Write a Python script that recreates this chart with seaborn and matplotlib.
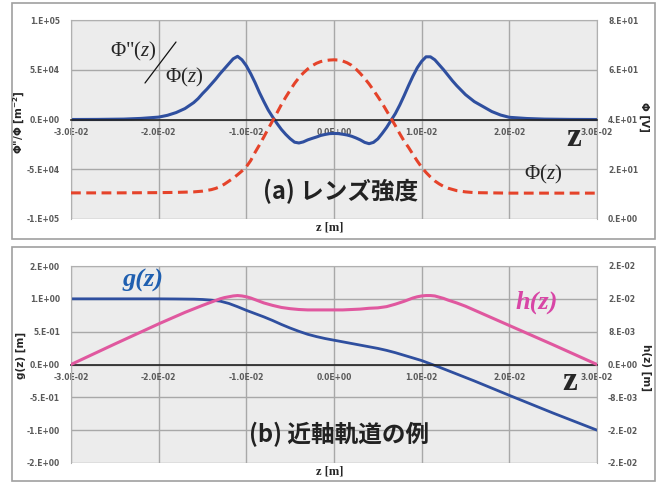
import numpy as np
import matplotlib
matplotlib.use('Agg')
import matplotlib.pyplot as plt
import seaborn as sns
from matplotlib.patches import Rectangle
from matplotlib.lines import Line2D

# panel (a): z [mm] -> Phi''/Phi [1e4 m^-2]
z_lens = [-30, -27, -24, -22, -20, -19, -18, -17, -16.5, -16, -15.5, -15, -14.5, -14, -13.5, -13, -12.5,
          -12, -11.5, -11, -10.5, -10, -9.5, -9, -8.5, -8, -7.5, -7, -6.5, -6, -5.5, -5, -4.5, -4, -3.5,
          -3, -2.5, -2, -1.5, -1, -0.5, 0,
          0.5, 1, 1.5, 2, 2.5, 3, 3.5, 4, 4.5, 5, 5.5, 6, 6.5, 7, 7.5, 8, 8.5, 9, 9.5, 10, 10.5, 11,
          11.5, 12, 12.5, 13, 13.5, 14, 14.5, 15, 16, 17, 18, 19, 20, 22, 24, 27, 30]
lens = [0, 0.01, 0.04, 0.11, 0.24, 0.42, 0.7, 1.1, 1.4, 1.7, 2.1, 2.6, 3.05, 3.55, 4.05, 4.6, 5.1,
        5.6, 6.1, 6.35, 6.0, 5.4, 4.6, 3.7, 2.7, 1.8, 0.95, 0.25, -0.4, -1.0, -1.5, -1.93, -2.28, -2.36,
        -2.25, -2.05, -1.9, -1.76, -1.6, -1.5, -1.42, -1.4,
        -1.42, -1.48, -1.56, -1.68, -1.85, -2.05, -2.3, -2.43, -2.3, -1.95, -1.4, -0.8, -0.1, 0.6, 1.45,
        2.4, 3.4, 4.35, 5.2, 5.85, 6.3, 6.3, 6.0, 5.5, 5.0, 4.45, 3.9, 3.4, 2.95, 2.5, 1.8, 1.3, 0.8,
        0.45, 0.22, 0.1, 0.04, 0.01, 0]
# z [mm] -> Phi [V]
z_phi = [-30, -25, -20, -18, -16, -15, -14, -13.5, -13, -12.5, -12, -11.5, -11, -10.5, -10, -9.5, -9,
         -8.5, -8, -7.5, -7, -6.5, -6, -5.5, -5, -4.5, -4, -3.5, -3, -2.5, -2, -1.5, -1, -0.5, 0,
         0.5, 1, 1.5, 2, 2.5, 3, 3.5, 4, 4.5, 5, 5.5, 6, 6.5, 7, 7.5, 8, 8.5, 9, 9.5, 10, 10.5, 11,
         11.5, 12, 12.5, 13, 14, 15, 16, 18, 20, 25, 30]
phi = [10.5, 10.5, 10.6, 10.7, 10.9, 11.2, 11.8, 12.3, 13.0, 14.0, 15.2, 16.4, 17.8, 19.3, 21.0, 23.5,
       26.8, 29.8, 33.0, 36.3, 39.5, 42.7, 46.0, 49.0, 51.8, 54.5, 56.8, 58.7, 60.3, 61.6, 62.6, 63.3,
       63.7, 63.9, 64.0,
       63.9, 63.5, 62.8, 61.8, 60.3, 58.5, 56.5, 54.3, 51.8, 49.2, 46.5, 43.5, 40.5, 37.5, 34.3, 31.3,
       28.8, 26.0, 23.3, 20.8, 18.7, 16.9, 15.3, 14.1, 13.1, 12.4, 11.4, 10.9, 10.6, 10.5, 10.4, 10.4,
       10.4]

# panel (b): paraxial rays
z_g = [-30, -25, -20, -18, -16, -15, -14, -13, -12, -11, -10, -9, -8, -7, -6, -5, -4, -3, -2, -1, 0,
       1, 2, 3, 4, 5, 6, 7, 8, 9, 10, 11, 12, 14, 16, 18, 20, 25, 30]
g = [1.0, 1.0, 1.0, 0.998, 0.995, 0.99, 0.98, 0.965, 0.93, 0.88, 0.825, 0.775, 0.725, 0.67, 0.61, 0.555,
     0.505, 0.46, 0.425, 0.395, 0.37,
     0.345, 0.32, 0.295, 0.27, 0.245, 0.215, 0.18, 0.14, 0.1, 0.06, 0.01, -0.04, -0.145, -0.25,
     -0.36, -0.47, -0.74, -1.0]
z_h = [-30, -25, -20, -17, -15, -14, -13.5, -13, -12.5, -12, -11.5, -11, -10.5, -10, -9.5, -9, -8.5,
       -8, -7, -6, -5, -4, -3, -2, -1, 0, 1, 2, 3, 4, 5, 6, 7, 8, 8.5, 9, 9.5, 10, 10.5, 11, 11.5,
       12, 12.5, 13, 14, 15, 20, 25, 30]
h = [0, 0.005, 0.0099, 0.0127, 0.0144, 0.0152, 0.0156, 0.016, 0.0163, 0.0165, 0.0167, 0.0168, 0.0167,
     0.0165, 0.0162, 0.0158, 0.0154, 0.015, 0.0144, 0.0139, 0.0136, 0.0134, 0.0133, 0.0133, 0.0133,
     0.0133, 0.0133, 0.0134, 0.0135, 0.0137, 0.0138, 0.0141, 0.0147, 0.0154, 0.0158, 0.0162, 0.0165,
     0.0167, 0.0168, 0.0168, 0.0167, 0.0164, 0.0161, 0.0157, 0.015, 0.0142, 0.0095, 0.0048, 0]

x_ticks = [-0.03, -0.02, -0.01, 0, 0.01, 0.02, 0.03]
x_labels = ['-3.0E-02', '-2.0E-02', '-1.0E-02', '0.0E+00', '1.0E-02', '2.0E-02', '3.0E-02']
a_left_ticks = [-1e5, -5e4, 0, 5e4, 1e5]
a_left_labels = ['-1.E+05', '-5.E+04', '0.E+00', '5.E+04', '1.E+05']
a_right_ticks = [0, 20, 40, 60, 80]
a_right_labels = ['0.E+00', '2.E+01', '4.E+01', '6.E+01', '8.E+01']
b_left_ticks = [-1.5, -1.0, -0.5, 0, 0.5, 1.0, 1.5]
b_left_labels = ['-2.E+00', '-1.E+00', '-5.E-01', '0.E+00', '5.E-01', '1.E+00', '2.E+00']
b_right_ticks = [-0.024, -0.016, -0.008, 0, 0.008, 0.016, 0.024]
b_right_labels = ['-2.E-02', '-2.E-02', '-8.E-03', '0.E+00', '8.E-03', '2.E-02', '2.E-02']

sns.set_style('whitegrid')
plt.rcParams['mathtext.fontset'] = 'custom'
plt.rcParams['mathtext.rm'] = 'Liberation Serif'
plt.rcParams['mathtext.it'] = 'Liberation Serif:italic'

W, H = 660, 484
fig = plt.figure(figsize=(6.6, 4.84), dpi=100)
fig.patch.set_facecolor('white')

def fx(px):
    return px / W

def fy(py):
    return 1 - py / H

# panel frames
for y0, y1 in [(3, 239), (247, 481)]:
    fig.add_artist(Rectangle((fx(12), fy(y1)), fx(655) - fx(12), fy(y0) - fy(y1),
                             transform=fig.transFigure, fill=False, ec='#a0a0a0', lw=1.2))

def setup(ax, ax2, lt, ll, rt, rl):
    ax.set_facecolor('#ececec')
    ax.spines['bottom'].set_position('zero')
    ax.spines['bottom'].set_color('#222222')
    ax.spines['bottom'].set_linewidth(1.2)
    for s in ['left', 'top', 'right']:
        ax.spines[s].set_color('#b0b0b0')
    for s in ax2.spines.values():
        s.set_visible(False)
    ax.set_xlim(-0.03, 0.03)
    ax.set_ylim(lt[0], lt[-1])
    ax2.set_ylim(rt[0], rt[-1])
    ax.set_xticks(x_ticks, x_labels)
    ax.set_yticks(lt, ll)
    ax2.set_yticks(rt, rl)
    ax.grid(True, color='#a8a8a8', lw=1.0)
    ax2.grid(False)
    ax.tick_params(axis='x', length=0, pad=6, labelsize=5.5, labelcolor='#5a5a5a')
    ax.tick_params(axis='y', length=0, pad=8, labelsize=5.5, labelcolor='#5a5a5a')
    ax2.tick_params(axis='y', length=0, pad=8, labelsize=5.5, labelcolor='#5a5a5a')
    for lab in ax.get_xticklabels() + ax.get_yticklabels() + ax2.get_yticklabels():
        lab.set_fontweight('bold')

mm = 1e-3

# ---- panel (a)
ax = fig.add_axes([fx(71), fy(219), fx(597) - fx(71), fy(20) - fy(219)])
ax2 = ax.twinx()
sns.lineplot(x=np.array(z_lens) * mm, y=np.array(lens) * 1e4, ax=ax, color='#2f4f9f', lw=2.2)
sns.lineplot(x=np.array(z_phi) * mm, y=phi, ax=ax2, color='#e5432a', lw=2.2, linestyle='--')
ax2.lines[-1].set_dashes((3.2, 1.8))
setup(ax, ax2, a_left_ticks, a_left_labels, a_right_ticks, a_right_labels)
ax.set_xlabel('')
ax.set_ylabel('')
ax2.set_ylabel('')

# ---- panel (b)
bx = fig.add_axes([fx(71), fy(463), fx(597) - fx(71), fy(266) - fy(463)])
bx2 = bx.twinx()
sns.lineplot(x=np.array(z_g) * mm, y=g, ax=bx, color='#2f4f9f', lw=2.0)
sns.lineplot(x=np.array(z_h) * mm, y=h, ax=bx2, color='#e0589f', lw=2.2)
setup(bx, bx2, b_left_ticks, b_left_labels, b_right_ticks, b_right_labels)
bx.set_xlabel('')
bx.set_ylabel('')
bx2.set_ylabel('')

# axis labels
serif = 'Liberation Serif'
fig.text(fx(330), fy(228), 'z [m]', family=serif, fontweight='bold', fontsize=9, ha='center', va='center')
fig.text(fx(330), fy(471), 'z [m]', family=serif, fontweight='bold', fontsize=9, ha='center', va='center')
fig.text(fx(19), fy(122), 'Φ"/Φ [m$^{\\mathbf{-2}}$]', fontweight='bold', fontsize=7.5, rotation=90,
         ha='center', va='center')
fig.text(fx(644), fy(117), 'Φ [V]', fontweight='bold', fontsize=7.5, rotation=-90, ha='center', va='center')
fig.text(fx(21), fy(355), 'g(z) [m]', fontweight='bold', fontsize=7.5, rotation=90, ha='center', va='center')
fig.text(fx(646), fy(368), 'h(z) [m]', fontweight='bold', fontsize=7.5, rotation=-90, ha='center', va='center')

# annotations
fig.text(fx(133), fy(51), r'$\Phi$"$(z)$', family=serif, fontsize=15, ha='center', va='center')
fig.add_artist(Line2D([fx(145), fx(176)], [fy(83), fy(42)], transform=fig.transFigure, color='#111111', lw=0.9))
fig.text(fx(184), fy(77), r'$\Phi(z)$', fontsize=15, ha='center', va='center')
fig.text(fx(543), fy(174), r'$\Phi(z)$', fontsize=15, ha='center', va='center')
fig.text(fx(574), fy(138), 'z', family=serif, fontweight='bold', fontsize=24, ha='center', va='center')
fig.text(fx(570), fy(382), 'z', family=serif, fontweight='bold', fontsize=24, ha='center', va='center')
fig.text(fx(143), fy(280), 'g(z)', family=serif, fontweight='bold', fontstyle='italic', fontsize=19,
         color='#1f5fb0', ha='center', va='center')
fig.text(fx(537), fy(302), 'h(z)', family=serif, fontweight='bold', fontstyle='italic', fontsize=19,
         color='#d846a6', ha='center', va='center')
cjk = ['Noto Sans CJK JP', 'DejaVu Sans']
fig.text(fx(341), fy(191), '(a) レンズ強度', family=cjk, fontweight='bold', fontsize=17,
         color='#222222', ha='center', va='center', zorder=10)
fig.text(fx(339), fy(434), '(b) 近軸軌道の例', family=cjk, fontweight='bold', fontsize=17,
         color='#222222', ha='center', va='center', zorder=10)

fig.savefig('out.png', dpi=100)
